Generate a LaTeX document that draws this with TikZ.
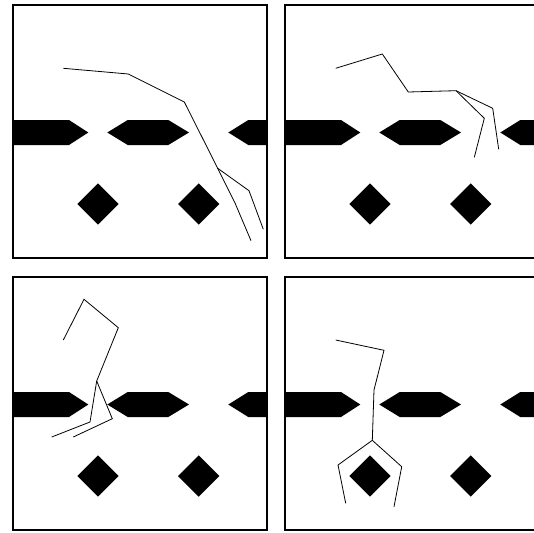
\documentclass[tikz,border=0pt]{standalone}
\usetikzlibrary{calc}

\tikzset{
    marco/.style={draw=black,line width=2.5pt},
    obstaculo/.style={fill=black},
    figura/.style={draw=black,line width=0.8pt,line join=miter}
}

% Fila de obstaculos de un cuadro
\newcommand{\obstaculos}{%
    \fill[obstaculo] (13,120) -- (69,120) -- (88.3,132.5) -- (69,145) -- (13,145) -- cycle;
    \fill[obstaculo] (107.3,132.5) -- (127.7,120) -- (168.3,120) -- (189,132.5) -- (168.3,145) -- (127.7,145) -- cycle;
    \fill[obstaculo] (228.3,132.5) -- (248.3,120) -- (267,120) -- (267,145) -- (248.3,145) -- cycle;
    \foreach \cx in {98,198.7}
    {
        \fill[obstaculo] (\cx-20.7,204) -- (\cx,183.3) -- (\cx+20.7,204) -- (\cx,224.7) -- cycle;
    }
    \draw[marco] (13,5) rectangle (267,258);
}

\begin{document}
\begin{tikzpicture}[x=1pt,y=-1pt]
    % Limites
    \useasboundingbox (0,0) rectangle (534,532);
    \clip (0,0) rectangle (534,532);
    \fill[white] (0,0) rectangle (534,532);

    % Cuadros
    \foreach \dx/\dy in {0/0,272/0,0/272,272/272}
    {
        \begin{scope}[shift={(\dx,\dy)}]
            \obstaculos
        \end{scope}
    }

    % Cuadro 1
    \begin{scope}
        \coordinate (cadera1) at (217.7,168.3);
        \draw[figura] (63.3,68.3) -- (128.3,74) -- (184.3,102) -- (cadera1) -- (235,203) -- (251,240.7);
        \draw[figura] (cadera1) -- (249,190.7) -- (263.3,229.3);
    \end{scope}

    % Cuadro 2
    \begin{scope}[shift={(272,0)}]
        \coordinate (cadera2) at (184,90.7);
        \draw[figura] (63.7,68.3) -- (110.3,54) -- (136.3,92) -- (cadera2) -- (212.3,118.3) -- (202.3,157.3);
        \draw[figura] (cadera2) -- (220.7,108.3) -- (226.7,149.3);
    \end{scope}

    % Cuadro 3
    \begin{scope}[shift={(0,272)}]
        \coordinate (cadera3) at (96.7,109);
        \draw[figura] (63.3,68) -- (84,27.3) -- (118.3,55.7) -- (cadera3) -- (90,150) -- (51.7,165);
        \draw[figura] (cadera3) -- (112.3,146.7) -- (73.3,165);
    \end{scope}

    % Cuadro 4
    \begin{scope}[shift={(272,272)}]
        \coordinate (cadera4) at (100.3,168.3);
        \draw[figura] (63.7,68) -- (112,78.3) -- (102,118) -- (cadera4) -- (66,193) -- (73.7,231.3);
        \draw[figura] (cadera4) -- (129.7,194.7) -- (122,234.7);
    \end{scope}

\end{tikzpicture}
\end{document}
